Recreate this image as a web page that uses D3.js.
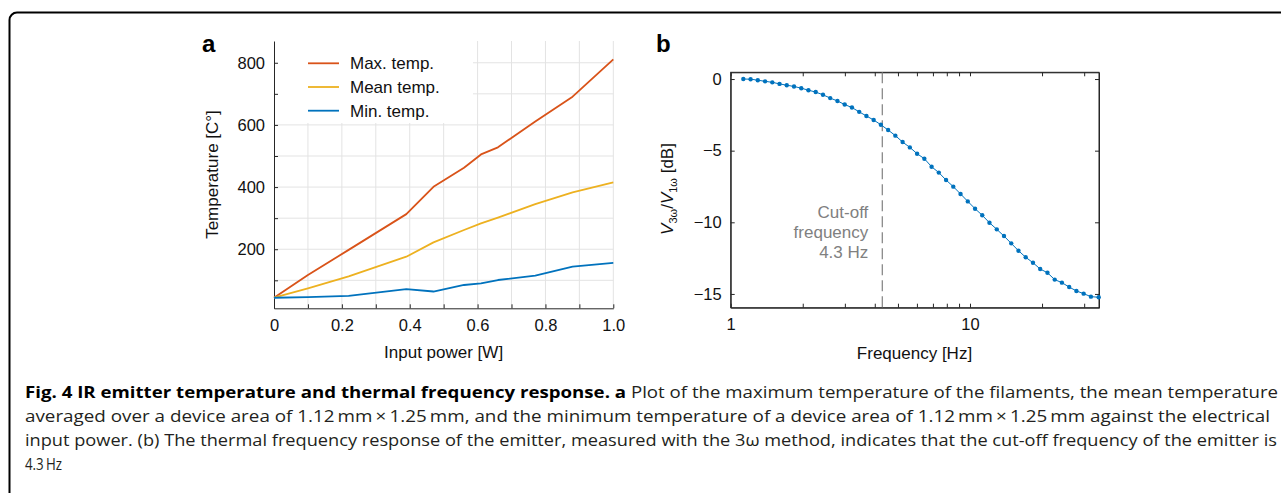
<!DOCTYPE html>
<html>
<head>
<meta charset="utf-8">
<script src="https://cdn.jsdelivr.net/npm/d3@7"></script>
<style>
  body { margin: 0; background: #fff; }
  svg text { font-family: "Liberation Sans", Arial, sans-serif; }
  .caption text { font-family: "Open Sans", "Noto Sans", sans-serif; }
</style>
</head>
<body>
<svg id="fig" width="1281" height="493"></svg>
<script>
// ---- panel a data ----
const powerW   = [0, 0.1, 0.22, 0.39, 0.47, 0.56, 0.61, 0.66, 0.77, 0.88, 1.0];
const maxTemp  = [44, 117, 198, 313, 401, 462, 505, 528, 611, 691, 811];
const meanTemp = [44, 74, 113, 176, 222, 262, 283, 302, 345, 383, 415];
const minTemp  = [44, 46, 50, 72, 64, 85, 90, 101, 115, 144, 156];
const seriesNames  = ["Max. temp.", "Mean temp.", "Min. temp."];
const seriesColors = ["#D95319", "#EDB120", "#0072BD"];

const powerTicks      = [0, 0.1, 0.2, 0.3, 0.4, 0.5, 0.6, 0.7, 0.8, 0.9, 1.0];
const powerTickLabels = ["0", "", "0.2", "", "0.4", "", "0.6", "", "0.8", "", "1.0"];
const tempTicks       = [100, 200, 300, 400, 500, 600, 700, 800];
const tempTickLabels  = ["", "200", "", "400", "", "600", "", "800"];

// ---- panel b data ----
const freqHz = [1.129, 1.211, 1.298, 1.392, 1.492, 1.600, 1.715, 1.839, 1.972, 2.113,
                2.266, 2.430, 2.605, 2.793, 2.995, 3.211, 3.443, 3.691, 3.957, 4.242,
                4.549, 4.877, 5.229, 5.606, 6.010, 6.445, 6.910, 7.407, 7.943, 8.515,
                9.130, 9.790, 10.50, 11.25, 12.06, 12.94, 13.87, 14.87, 15.94, 17.09,
                18.33, 19.65, 21.07, 22.59, 24.22, 25.97, 27.84, 29.85, 32.01, 34.50];
const ratioDb = [0.00, -0.01, -0.08, -0.16, -0.23, -0.34, -0.43, -0.52, -0.64, -0.78,
                 -0.91, -1.10, -1.33, -1.53, -1.78, -1.99, -2.29, -2.58, -2.86, -3.19,
                 -3.56, -3.95, -4.40, -4.77, -5.21, -5.56, -6.12, -6.53, -7.05, -7.51,
                 -8.02, -8.54, -9.05, -9.51, -10.03, -10.49, -10.96, -11.47, -11.98, -12.44,
                 -12.82, -13.26, -13.52, -14.00, -14.21, -14.52, -14.79, -14.98, -15.19, -15.23];
const cutoffHz = 4.3;
const cutoffLabel = ["Cut-off", "frequency", "4.3 Hz"];

const freqTicks      = [1, 2, 3, 4, 5, 6, 7, 8, 9, 10, 20, 30];
const freqTickLabels = ["1", "", "", "", "", "", "", "", "", "10", "", ""];
const dbTicks        = [0, -5, -10, -15];
const dbTickLabels   = ["0", "\u22125", "\u221210", "\u221215"];

// ---- caption ----
const captionBold = "Fig. 4 IR emitter temperature and thermal frequency response. a";
const captionLines = [
  " Plot of the maximum temperature of the filaments, the mean temperature",
  "averaged over a device area of 1.12\u2009mm\u2009\u00d7\u20091.25\u2009mm, and the minimum temperature of a device area of 1.12\u2009mm\u2009\u00d7\u20091.25\u2009mm against the electrical",
  "input power. (b) The thermal frequency response of the emitter, measured with the 3\u03c9 method, indicates that the cut-off frequency of the emitter is",
  "4.3\u2009Hz"
];

const ink = "#262626";
const svg = d3.select("#fig");

// outer frame (rounded top-left corner)
svg.append("path")
  .attr("d", "M9.5,500 L9.5,20 A7.5,7.5 0 0 1 17,12.5 L1290,12.5")
  .attr("fill", "none")
  .attr("stroke", "#000")
  .attr("stroke-width", 2);

function styleAxis(sel, fontSize) {
  sel.select(".domain").attr("stroke", ink);
  sel.selectAll(".tick line").attr("stroke", ink);
  sel.selectAll(".tick text").attr("fill", "#111").style("font-size", fontSize + "px");
}

// ================= panel a =================
const xA = d3.scaleLinear().domain([0, 1]).range([274, 613.3]);
const yA = d3.scaleLinear().domain([10, 870]).range([308.3, 41]);
const gA = svg.append("g");

// grid
gA.append("g").selectAll("line").data(powerTicks.slice(1)).enter().append("line")
  .attr("x1", d => xA(d)).attr("x2", d => xA(d))
  .attr("y1", yA.range()[0]).attr("y2", yA.range()[1])
  .attr("stroke", "#e3e3e3").attr("stroke-width", 1);
gA.append("g").selectAll("line").data(tempTicks).enter().append("line")
  .attr("x1", xA.range()[0]).attr("x2", xA.range()[1])
  .attr("y1", d => yA(d)).attr("y2", d => yA(d))
  .attr("stroke", "#e3e3e3").attr("stroke-width", 1);

// legend background hides grid
gA.append("rect")
  .attr("x", xA(0) + 1).attr("y", yA.range()[1])
  .attr("width", 198).attr("height", 82)
  .attr("fill", "#fff");

const xAxisA = gA.append("g")
  .attr("transform", `translate(0,${yA.range()[0]})`)
  .call(d3.axisBottom(xA).tickValues(powerTicks)
    .tickFormat((d, i) => powerTickLabels[i])
    .tickSize(-4).tickSizeOuter(0).tickPadding(11));
styleAxis(xAxisA, 16.5);

const yAxisA = gA.append("g")
  .attr("transform", `translate(${xA.range()[0]},0)`)
  .call(d3.axisLeft(yA).tickValues(tempTicks)
    .tickFormat((d, i) => tempTickLabels[i])
    .tickSize(-4).tickSizeOuter(0).tickPadding(9));
styleAxis(yAxisA, 16.5);

const tempSeries = [maxTemp, meanTemp, minTemp];
const lineA = d3.line().x(d => xA(d[0])).y(d => yA(d[1]));
tempSeries.forEach((vals, k) => {
  gA.append("path")
    .datum(powerW.map((p, i) => [p, vals[i]]))
    .attr("d", lineA)
    .attr("fill", "none")
    .attr("stroke", seriesColors[k])
    .attr("stroke-width", 1.8)
    .attr("stroke-linejoin", "round");
});

// legend
const leg = gA.append("g");
seriesNames.forEach((name, k) => {
  const cy = 63.3 + k * 23.7;
  leg.append("line")
    .attr("x1", 308).attr("x2", 339).attr("y1", cy).attr("y2", cy)
    .attr("stroke", seriesColors[k]).attr("stroke-width", 1.8);
  leg.append("text")
    .attr("x", 350).attr("y", cy + 6)
    .style("font-size", "17px").attr("fill", "#111")
    .text(name);
});

gA.append("text")
  .attr("x", 443.6).attr("y", 358)
  .attr("text-anchor", "middle")
  .style("font-size", "17px").attr("fill", "#111")
  .text("Input power [W]");

gA.append("text")
  .attr("transform", "translate(218,174.5) rotate(-90)")
  .attr("text-anchor", "middle")
  .style("font-size", "17px").attr("fill", "#111")
  .text("Temperature [C\u00b0]");

gA.append("text")
  .attr("x", 202).attr("y", 52)
  .style("font-size", "24px").style("font-weight", "bold")
  .text("a");

// ================= panel b =================
const xB = d3.scaleLog().domain([1, 34.6]).range([730.7, 1099]);
const yB = d3.scaleLinear().domain([-15.96, 0.47]).range([307.7, 72.3]);
const gB = svg.append("g");

gB.append("rect")
  .attr("x", xB.range()[0]).attr("y", yB.range()[1])
  .attr("width", xB.range()[1] - xB.range()[0])
  .attr("height", yB.range()[0] - yB.range()[1])
  .attr("fill", "none").attr("stroke", ink).attr("stroke-width", 1);

const xAxisB = gB.append("g")
  .attr("transform", `translate(0,${yB.range()[0]})`)
  .call(d3.axisBottom(xB).tickValues(freqTicks)
    .tickFormat((d, i) => freqTickLabels[i])
    .tickSize(-4).tickSizeOuter(0).tickPadding(11));
styleAxis(xAxisB, 16.5);

const xAxisBTop = gB.append("g")
  .attr("transform", `translate(0,${yB.range()[1]})`)
  .call(d3.axisTop(xB).tickValues(freqTicks).tickFormat("")
    .tickSize(-4).tickSizeOuter(0));
styleAxis(xAxisBTop, 16.5);

const yAxisB = gB.append("g")
  .attr("transform", `translate(${xB.range()[0]},0)`)
  .call(d3.axisLeft(yB).tickValues(dbTicks)
    .tickFormat((d, i) => dbTickLabels[i])
    .tickSize(-4).tickSizeOuter(0).tickPadding(9));
styleAxis(yAxisB, 16.5);

const yAxisBRight = gB.append("g")
  .attr("transform", `translate(${xB.range()[1]},0)`)
  .call(d3.axisRight(yB).tickValues(dbTicks).tickFormat("")
    .tickSize(-4).tickSizeOuter(0));
styleAxis(yAxisBRight, 16.5);

// cut-off marker
gB.append("line")
  .attr("x1", xB(cutoffHz)).attr("x2", xB(cutoffHz))
  .attr("y1", yB.range()[1]).attr("y2", yB.range()[0])
  .attr("stroke", "#808080").attr("stroke-width", 1.2)
  .attr("stroke-dasharray", "11,5");

cutoffLabel.forEach((t, i) => {
  gB.append("text")
    .attr("x", xB(cutoffHz) - 14).attr("y", 218 + i * 20)
    .attr("text-anchor", "end")
    .style("font-size", "17px").attr("fill", "#808080")
    .text(t);
});

const respPts = freqHz.map((f, i) => [f, ratioDb[i]]);
gB.append("path")
  .datum(respPts)
  .attr("d", d3.line().x(d => xB(d[0])).y(d => yB(d[1])))
  .attr("fill", "none").attr("stroke", "#0072BD").attr("stroke-width", 1);
gB.append("g").selectAll("circle").data(respPts).enter().append("circle")
  .attr("cx", d => xB(d[0])).attr("cy", d => yB(d[1]))
  .attr("r", 2.2).attr("fill", "#0072BD");

gB.append("text")
  .attr("x", 914.5).attr("y", 359)
  .attr("text-anchor", "middle")
  .style("font-size", "17px").attr("fill", "#111")
  .text("Frequency [Hz]");

const yLabB = gB.append("text")
  .attr("transform", "translate(673,189) rotate(-90)")
  .attr("text-anchor", "middle")
  .style("font-size", "17px").attr("fill", "#111");
yLabB.append("tspan").style("font-style", "italic").text("V");
yLabB.append("tspan").attr("dy", 4).style("font-size", "11px").text("3\u03c9");
yLabB.append("tspan").attr("dy", -4).text("/");
yLabB.append("tspan").style("font-style", "italic").text("V");
yLabB.append("tspan").attr("dy", 4).style("font-size", "11px").text("1\u03c9");
yLabB.append("tspan").attr("dy", -4).text(" [dB]");

gB.append("text")
  .attr("x", 656).attr("y", 52)
  .style("font-size", "24px").style("font-weight", "bold")
  .text("b");

// ================= caption =================
const cap = svg.append("g").attr("class", "caption");
const capEnds = [1278, 1270, 1277, 62];
captionLines.forEach((t, i) => {
  const txt = cap.append("text")
    .attr("x", 25).attr("y", 398 + i * 24)
    .attr("textLength", capEnds[i] - 25)
    .attr("lengthAdjust", "spacingAndGlyphs")
    .style("font-size", "15.5px").attr("fill", "#231f20");
  if (i === 0) {
    txt.append("tspan").style("font-weight", "bold").attr("fill", "#000").text(captionBold);
  }
  txt.append("tspan").text(t);
});
</script>
</body>
</html>
